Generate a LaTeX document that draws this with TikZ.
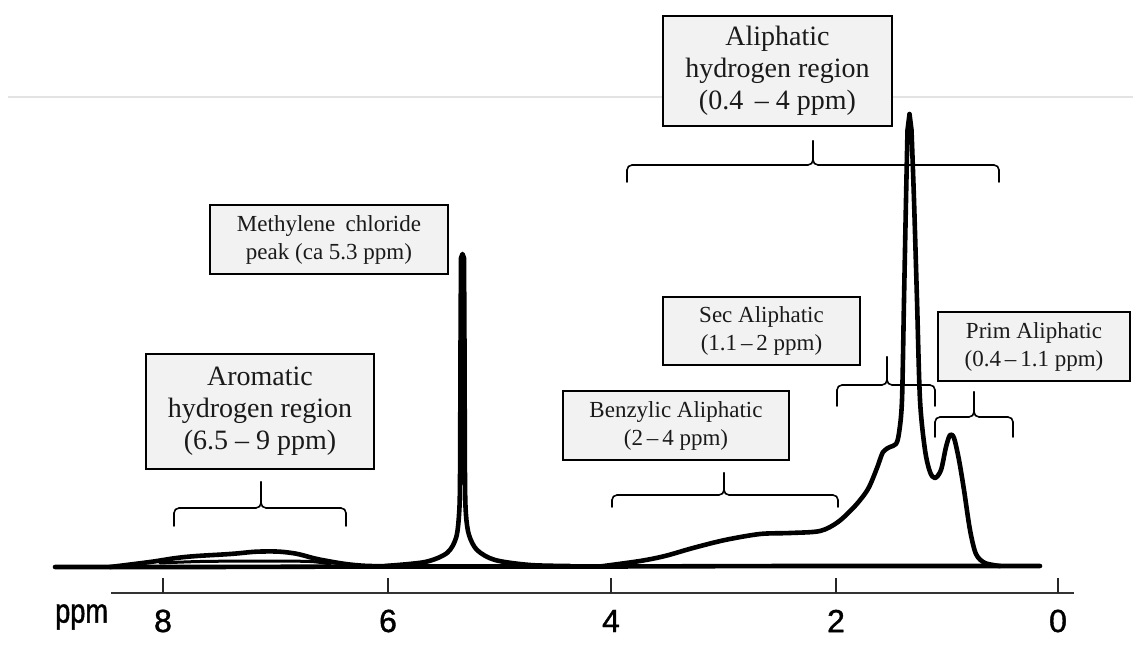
\documentclass[tikz,border=0pt]{standalone}
\usepackage{fontspec}
\setmainfont{Liberation Serif}
\newfontfamily\axisfont[FakeBold=1.2]{Liberation Sans}
\newfontfamily\ppmfont[FakeStretch=0.8,FakeBold=1.2]{Liberation Sans}
\definecolor{boxfill}{HTML}{F2F2F2}
\definecolor{txt}{HTML}{1A1A1A}
\newcommand\upbrace[6]{% x-left, x-right, x-tip, y-bar, y-ends, y-tip
  \draw[brc] (#1,#5) -- (#1,#4) -- (#3,#4) -- (#3,#6);
  \draw[brc] (#2,#5) -- (#2,#4) -- (#3,#4) -- (#3,#6);
}
\begin{document}
\begin{tikzpicture}[x=1pt,y=-1pt,
  lbox/.style={draw=black, line width=1.4pt, fill=boxfill, inner sep=0pt, align=center,
    text=txt, font=\fontsize{23}{28}\selectfont},
  bigbox/.style={lbox, font=\fontsize{28}{32}\selectfont},
  brc/.style={line width=1.6pt, rounded corners=5pt, line cap=round},
  spec/.style={line width=4.6pt, line join=round, line cap=round, black},
  tick/.style={line width=2pt, black!85},
  ticklab/.style={font=\axisfont\fontsize{32}{32}\selectfont, inner sep=0pt}]
\useasboundingbox (0,0) rectangle (1133,668);
% faint guide line
\draw[gray!22, line width=1.2pt] (8,97) -- (1133,97);
% axis
\draw[line width=2.6pt, black!80] (111,593) -- (1074,593);
\foreach \x/\l in {163/8, 388/6, 611/4, 836/2, 1058/0}{
  \draw[tick] (\x,578) -- (\x,593);
  \node[ticklab] (lab\l) at (\x,621) {\l};
}
\node[font=\ppmfont\fontsize{34}{34}\selectfont, inner sep=0pt, anchor=west] (ppm) at (55,617) {ppm};
% baseline
\draw[spec] plot[smooth] coordinates {(55,567) (200,567) (400,566.5) (600,566.5) (800,566) (1040,566)};
% aromatic hump
\draw[spec] plot[smooth, tension=0.7] coordinates {(110,567) (150,562) (185,557) (230,554) (262,551.5) (292,553) (322,560) (360,565.5) (400,566)};
\draw[spec, line width=3pt] plot[smooth] coordinates {(160,563) (200,561.5) (260,561) (310,561.5) (330,564)};
% methylene chloride peak
\draw[spec] plot[smooth, tension=0.5] coordinates {(385,566) (425,562) (447,553) (456,538) (459,515) (460,480) (460.5,350) (461,258)}
  -- (462.5,254) -- plot[smooth, tension=0.5] coordinates {(464,258) (464.5,350) (465,480) (466,515) (469,535) (477,550) (495,560) (530,565) (570,566)};
% aliphatic complex
\draw[spec] plot[smooth, tension=0.5] coordinates {(600,566.5) (640,561) (665,556) (693,548) (725,540) (760,534) (790,533) (820,531) (838,522) (855,506) (868,489) (877,468) (883,452) (890,447) (896,444) (899,433) (902,400) (904,300) (906,200) (907.5,130)}
  -- (909.5,114) -- plot[smooth, tension=0.5] coordinates {(911.5,130) (914,200) (917,300) (920,400) (925,450) (930,472) (935,478) (941,470) (946,447) (950,435) (954,438) (959,460) (964,490) (970,530) (976,554) (985,563) (1000,566)};
% boxes
\node[bigbox, minimum width=229pt, minimum height=110pt] (ali) at (777.5,71) {Aliphatic\\hydrogen region\\(0.4 \,– 4 ppm)};
\node[lbox, minimum width=238pt, minimum height=69pt] (meth) at (329,239.5) {Methylene\hspace{0.45em}chloride\\peak (ca 5.3 ppm)};
\node[bigbox, minimum width=228pt, minimum height=115pt] (aro) at (260,411.5) {Aromatic\\hydrogen region\\(6.5 – 9 ppm)};
\node[lbox, minimum width=197pt, minimum height=68pt] (sec) at (761.5,331) {Sec Aliphatic\\(1.1\,–\,2 ppm)};
\node[lbox, minimum width=192pt, minimum height=69pt] (prim) at (1034,346.5) {Prim Aliphatic\\(0.4\,–\,1.1 ppm)};
\node[lbox, minimum width=226pt, minimum height=69pt] (benz) at (676,425.5) {Benzylic Aliphatic\\(2\,–\,4 ppm)};
% braces
\upbrace{627}{999}{813}{165}{182}{141}
\upbrace{174}{346}{261}{508}{526}{482}
\upbrace{612}{838}{724}{495}{507}{473}
\upbrace{837}{935}{887}{385}{406}{357}
\upbrace{935}{1013}{974}{417}{437}{392}
\end{tikzpicture}
\end{document}
